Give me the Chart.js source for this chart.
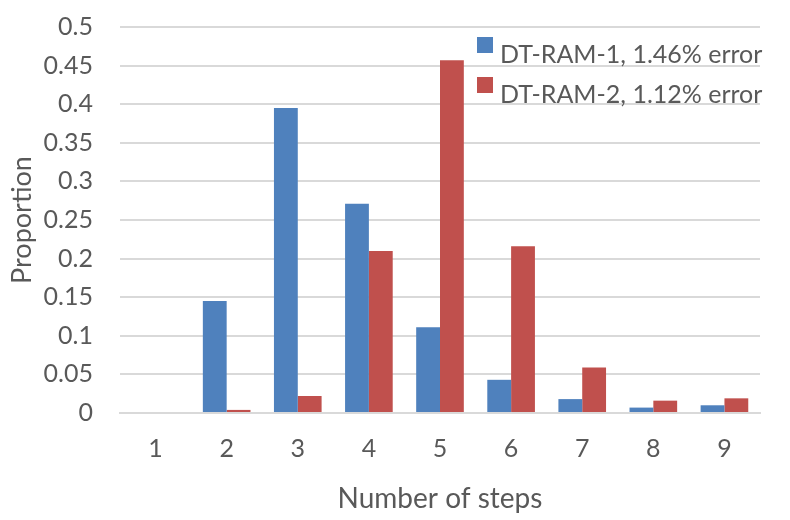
<!DOCTYPE html>
<html>
<head>
<meta charset="utf-8">
<script src="https://cdn.jsdelivr.net/npm/chart.js@4"></script>
<style>
  body { margin: 0; background: #fff; }
  #wrap { width: 790px; height: 520px; }
</style>
</head>
<body>
<div id="wrap"><canvas id="stepsChart" width="790" height="520"></canvas></div>
<script>
const steps = ["1", "2", "3", "4", "5", "6", "7", "8", "9"];
const ram1 = [0, 0.145, 0.395, 0.271, 0.111, 0.043, 0.018, 0.007, 0.010];
const ram2 = [0, 0.004, 0.022, 0.210, 0.457, 0.216, 0.059, 0.016, 0.019];
const seriesNames = ["DT-RAM-1, 1.46% error", "DT-RAM-2, 1.12% error"];

const textColor = '#595959';
const fontFamily = 'Lato, "Liberation Sans", sans-serif';

// legend drawn inside the plot, top right
const boxLegend = {
    id: 'boxLegend',
    afterDraw(chart) {
        const ctx = chart.ctx;
        ctx.save();
        chart.data.datasets.forEach((ds, i) => {
            const y = 37 + i * 40;
            ctx.fillStyle = ds.backgroundColor;
            ctx.fillRect(477, y, 16, 16);
            ctx.fillStyle = textColor;
            ctx.font = '25px ' + fontFamily;
            ctx.textBaseline = 'alphabetic';
            ctx.fillText(ds.label, 500, y + 26);
        });
        ctx.restore();
    }
};

new Chart(document.getElementById('stepsChart'), {
    type: 'bar',
    data: {
        labels: steps,
        datasets: [
            { label: seriesNames[0], data: ram1, backgroundColor: '#4F81BD' },
            { label: seriesNames[1], data: ram2, backgroundColor: '#C0504D' }
        ]
    },
    options: {
        responsive: false,
        animation: false,
        layout: { padding: { top: 0, right: 30, bottom: 4, left: 6 } },
        datasets: { bar: { categoryPercentage: 0.67, barPercentage: 1.0 } },
        plugins: {
            legend: { display: false },
            tooltip: { enabled: false }
        },
        scales: {
            x: {
                grid: { display: false },
                border: { display: true, color: '#D9D9D9', width: 2 },
                ticks: { color: textColor, font: { family: fontFamily, size: 25 }, padding: 13 },
                title: {
                    display: true, text: 'Number of steps', color: textColor,
                    font: { family: fontFamily, size: 28 }, padding: 0
                },
                afterFit(scale) { scale.height = 103; }
            },
            y: {
                min: 0, max: 0.5,
                ticks: {
                    stepSize: 0.05, color: textColor, padding: 27,
                    font: { family: fontFamily, size: 25 },
                    callback: v => +v.toFixed(2)
                },
                grid: { color: '#D9D9D9', lineWidth: 2, drawTicks: false },
                border: { display: false },
                title: {
                    display: true, text: 'Proportion', color: textColor,
                    font: { family: fontFamily, size: 27 }, padding: 0
                },
                afterFit(scale) {
                    scale.width = 114;
                    scale.paddingTop = 27;
                }
            }
        }
    },
    plugins: [boxLegend]
});
</script>
</body>
</html>
